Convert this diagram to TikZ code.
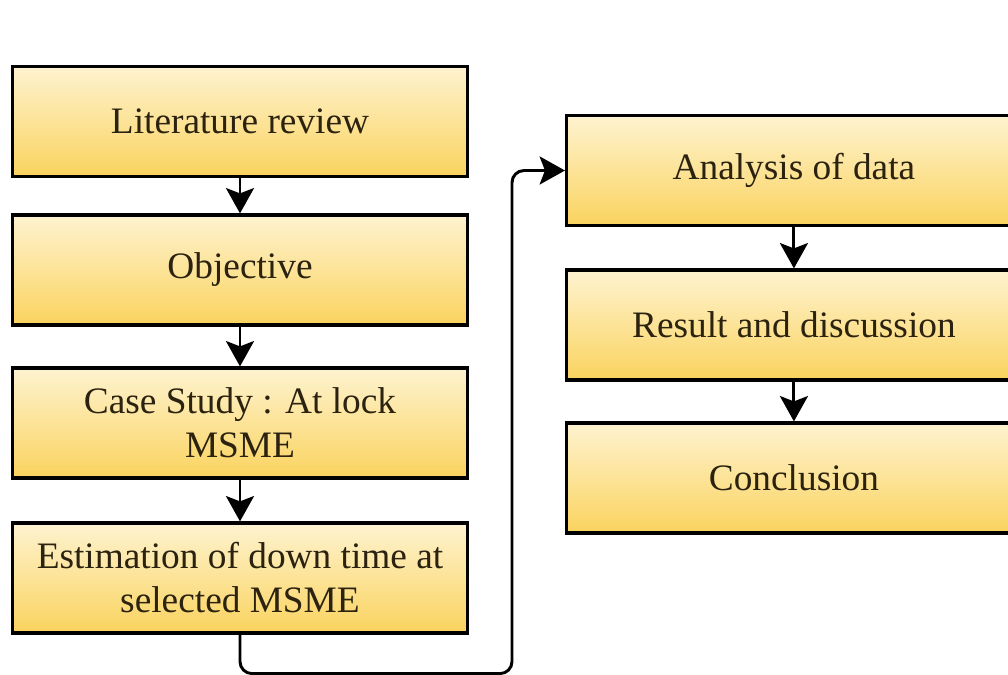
\documentclass[tikz,border=0pt]{standalone}
\usepackage{amsmath}
\usepackage{xcolor}
\usepackage{tikz}
\usepackage{fontspec}
\setmainfont{Liberation Serif}
\usetikzlibrary{positioning,arrows.meta}

\definecolor{boxtop}{HTML}{FEF3D0}
\definecolor{boxbottom}{HTML}{FAD35E}
\definecolor{boxtext}{HTML}{2B2210}

\tikzset{
  stepbox/.style={draw=black, line width=2.4pt, top color=boxtop, bottom color=boxbottom,
    minimum width=341pt, minimum height=82.5pt, inner sep=2pt, align=center,
    text=boxtext, font=\fontsize{28}{33}\selectfont},
  flowarrow/.style={draw=black, line width=2.2pt,
    -{Stealth[length=19pt,width=21pt,inset=4pt]}}
}

\begin{document}
\begin{tikzpicture}[x=0.75pt,y=0.75pt,yscale=-1,xscale=1]

\clip (0,0) rectangle (1008,675);

% left column
\node[stepbox] (lit) at (240,121.5) {Literature review};
\node[stepbox] (obj) at (240,270) {Objective};
\node[stepbox] (case) at (240,423) {Case Study : At lock\\MSME};
\node[stepbox] (est) at (240,578) {Estimation of down time at\\selected MSME};

% right column
\node[stepbox, anchor=west] (ana) at (565,170.5) {Analysis of data};
\node[stepbox, anchor=west] (res) at (565,325) {Result and discussion};
\node[stepbox, anchor=west] (con) at (565,478) {Conclusion};

\draw[flowarrow] (lit) -- (obj);
\draw[flowarrow] (obj) -- (case);
\draw[flowarrow] (case) -- (est);
\draw[flowarrow] (ana) -- (res);
\draw[flowarrow] (res) -- (con);

\draw[flowarrow, rounded corners=9pt] (est.south) -- ++(0,39) -- ++(272,0) |- (ana.west);

\end{tikzpicture}
\end{document}
